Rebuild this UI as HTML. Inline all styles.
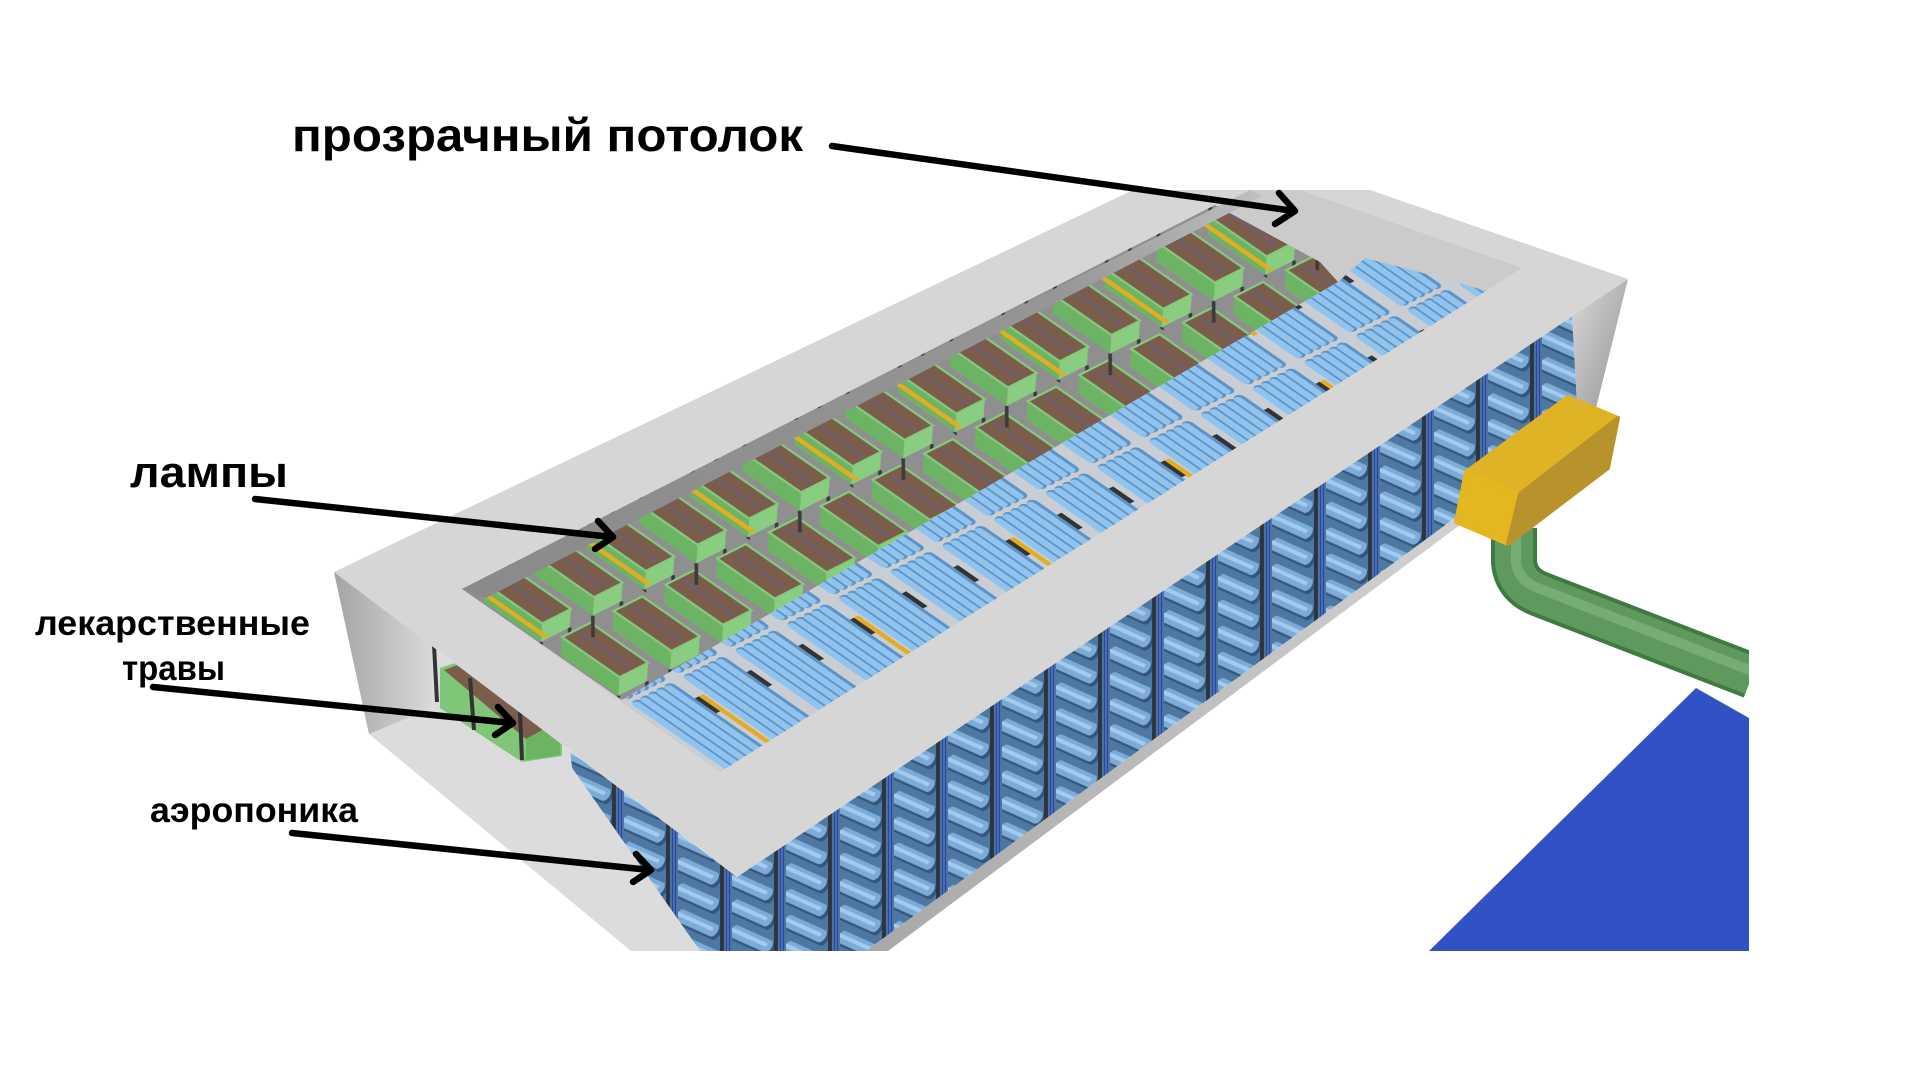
<!DOCTYPE html>
<html><head><meta charset="utf-8">
<style>
html,body{margin:0;padding:0;background:#fff;width:1920px;height:1080px;overflow:hidden;}
svg{display:block;}
text{font-family:"Liberation Sans","DejaVu Sans",sans-serif;font-weight:bold;fill:#000;}
</style></head><body>
<svg width="1920" height="1080" viewBox="0 0 1920 1080" xmlns="http://www.w3.org/2000/svg">
<defs>
  <!-- rack side pattern -->
  <pattern id="rack" width="54" height="130" patternUnits="userSpaceOnUse" patternTransform="translate(570,751) skewY(-33.8)">
    <rect width="54" height="130" fill="#4d78a2"/>
    <g stroke-linecap="round">
      <line x1="4" y1="-18" x2="38" y2="20" stroke="#34567a" stroke-width="11"/>
      <line x1="2" y1="-22" x2="36" y2="16" stroke="#7cabd7" stroke-width="10"/>
      <line x1="0" y1="-25" x2="34" y2="13" stroke="#a2cbee" stroke-width="3"/>
      <line x1="4" y1="8" x2="38" y2="46" stroke="#34567a" stroke-width="11"/>
      <line x1="2" y1="4" x2="36" y2="42" stroke="#7cabd7" stroke-width="10"/>
      <line x1="0" y1="1" x2="34" y2="39" stroke="#a2cbee" stroke-width="3"/>
      <line x1="4" y1="34" x2="38" y2="72" stroke="#34567a" stroke-width="11"/>
      <line x1="2" y1="30" x2="36" y2="68" stroke="#7cabd7" stroke-width="10"/>
      <line x1="0" y1="27" x2="34" y2="65" stroke="#a2cbee" stroke-width="3"/>
      <line x1="4" y1="60" x2="38" y2="98" stroke="#34567a" stroke-width="11"/>
      <line x1="2" y1="56" x2="36" y2="94" stroke="#7cabd7" stroke-width="10"/>
      <line x1="0" y1="53" x2="34" y2="91" stroke="#a2cbee" stroke-width="3"/>
      <line x1="4" y1="86" x2="38" y2="124" stroke="#34567a" stroke-width="11"/>
      <line x1="2" y1="82" x2="36" y2="120" stroke="#7cabd7" stroke-width="10"/>
      <line x1="0" y1="79" x2="34" y2="117" stroke="#a2cbee" stroke-width="3"/>
      <line x1="4" y1="112" x2="38" y2="150" stroke="#34567a" stroke-width="11"/>
      <line x1="2" y1="108" x2="36" y2="146" stroke="#7cabd7" stroke-width="10"/>
      <line x1="0" y1="105" x2="34" y2="143" stroke="#a2cbee" stroke-width="3"/>
    </g>
    <rect x="42" y="0" width="4" height="130" fill="#2b3540"/>
    <line x1="48.5" y1="0" x2="48.5" y2="130" stroke="#2a3fb0" stroke-width="1.2"/>
    <line x1="51.5" y1="0" x2="51.5" y2="130" stroke="#2a3fb0" stroke-width="1.2"/>
  </pattern>

  <!-- herb box (local coords) -->
  <g id="gbox">
    <line x1="-18" y1="88" x2="-38" y2="110" stroke="#3b3b3b" stroke-width="3"/>
    <line x1="14" y1="88" x2="-6" y2="110" stroke="#3b3b3b" stroke-width="3"/>
    <polygon points="0,0 0,70 -18,88 -18,18" fill="#6cb464"/>
    <polygon points="0,70 32,70 14,88 -18,88" fill="#88cd80"/>
    <rect width="32" height="70" fill="#7a5d4b" stroke="#85ca7d" stroke-width="2.5"/>
    <line x1="16" y1="4" x2="16" y2="66" stroke="#4a62d8" stroke-width="0.8"/>
  </g>
  <pattern id="gp" width="116" height="196" patternUnits="userSpaceOnUse">
    <rect width="116" height="196" fill="#8f8f8f"/>
    <use href="#gbox" x="20" y="6"/>
    <use href="#gbox" x="20" y="100"/>
    <use href="#gbox" x="78" y="6"/>
    <use href="#gbox" x="78" y="100"/>
    <line x1="10" y1="2" x2="10" y2="92" stroke="#e3ad22" stroke-width="5"/>
  </pattern>

  <!-- pipe column (local coords) -->
  <g id="pcol">
    <rect x="49" y="30" width="5" height="26" fill="#333"/>
    <rect x="49" y="120" width="5" height="26" fill="#333"/>
    <g stroke-linecap="round">
      <line x1="8" y1="6" x2="8" y2="192" stroke="#5e93c6" stroke-width="10"/>
      <line x1="6" y1="6" x2="6" y2="192" stroke="#90c3ed" stroke-width="7"/>
      <line x1="17" y1="6" x2="17" y2="192" stroke="#5e93c6" stroke-width="10"/>
      <line x1="15" y1="6" x2="15" y2="192" stroke="#90c3ed" stroke-width="7"/>
      <line x1="26" y1="6" x2="26" y2="192" stroke="#5e93c6" stroke-width="10"/>
      <line x1="24" y1="6" x2="24" y2="192" stroke="#90c3ed" stroke-width="7"/>
      <line x1="35" y1="6" x2="35" y2="192" stroke="#5e93c6" stroke-width="10"/>
      <line x1="33" y1="6" x2="33" y2="192" stroke="#90c3ed" stroke-width="7"/>
      <line x1="44" y1="6" x2="44" y2="192" stroke="#5e93c6" stroke-width="10"/>
      <line x1="42" y1="6" x2="42" y2="192" stroke="#90c3ed" stroke-width="7"/>
    </g>
  </g>
  <pattern id="bp" width="174" height="200" patternUnits="userSpaceOnUse">
    <rect width="174" height="200" fill="#c9ced4"/>
    <use href="#pcol" x="0" y="0"/>
    <use href="#pcol" x="58" y="0"/>
    <use href="#pcol" x="116" y="0"/>
    <line x1="56" y1="30" x2="56" y2="150" stroke="#e3ad22" stroke-width="5"/>
  </pattern>

  <linearGradient id="wallL" x1="0" y1="0" x2="1" y2="0">
    <stop offset="0" stop-color="#a4a4a4"/>
    <stop offset="1" stop-color="#d9d9d9"/>
  </linearGradient>
  <linearGradient id="wallR" x1="0" y1="0" x2="1" y2="1">
    <stop offset="0" stop-color="#dadada"/>
    <stop offset="1" stop-color="#8e8e8e"/>
  </linearGradient>
  <linearGradient id="strip" x1="0" y1="0" x2="1" y2="0">
    <stop offset="0" stop-color="#a8a8a8"/>
    <stop offset="1" stop-color="#d2d2d2"/>
  </linearGradient>
  <linearGradient id="band" gradientUnits="userSpaceOnUse" x1="462" y1="589" x2="1250" y2="190">
    <stop offset="0" stop-color="#8a8a8a"/>
    <stop offset="0.75" stop-color="#969696"/>
    <stop offset="1" stop-color="#bdbdbd"/>
  </linearGradient>

  <clipPath id="cGreen"><polygon points="462,589 1215,205 1320,262 1338,282 622,700"/></clipPath>
  <clipPath id="cBlue"><polygon points="622,700 1338,282 1365,258 1450,280 1486,291 720,772"/></clipPath>
</defs>

<rect width="1920" height="1080" fill="#fff"/>

<!-- blue floor -->
<polygon points="1696,688 1749,718 1749,951 1429,951" fill="#3152c4"/>

<!-- rack band (aeroponics side view) -->
<polygon points="570,751 737,877 1572,316 1580,430 1455,518 866,951 700,951 572,768" fill="url(#rack)"/>
<polygon points="866,951 1455,518 1472,516 888,951" fill="url(#strip)"/>

<!-- left end: wall + floor -->
<polygon points="334,572 570,751 572,768 700,951 631,951 369,734" fill="#dcdcdc"/>
<polygon points="334,572 432,646 432,708 369,734" fill="url(#wallL)"/>
<!-- herbs visible at left end -->
<polygon points="440,668 458,662 562,735 562,756 522,762 440,708" fill="#7fc678"/>
<polygon points="444,670 458,665 546,728 526,739" fill="#7a5d4b"/>
<polygon points="526,739 546,728 560,738 560,755 526,760" fill="#6cb464"/>
<g stroke="#333" stroke-width="4">
  <line x1="434" y1="645" x2="437" y2="702"/>
  <line x1="470" y1="678" x2="474" y2="730"/>
  <line x1="520" y1="712" x2="522" y2="760"/>
</g>

<!-- right end wall -->
<polygon points="1628,279 1596,408 1578,425 1572,316" fill="url(#wallR)"/>

<!-- roof slab -->
<polygon points="334,572 1133,190 1370,190 1628,279 737,877" fill="#d6d6d6"/>

<!-- inner opening (transparent ceiling) -->
<polygon points="462,589 1250,190 1300,190 1522,268 720,772" fill="#cbcbcb"/>
<g clip-path="url(#cGreen)">
  <g transform="matrix(0.892,-0.452,0.822,0.572,462,589)">
    <rect x="-120" y="-60" width="1250" height="460" fill="url(#gp)"/>
  </g>
</g>
<polygon points="462,589 1250,190 1262,196 486,598" fill="url(#band)"/>
<g clip-path="url(#cBlue)">
  <g transform="matrix(0.892,-0.452,0.822,0.572,462,589)">
    <rect x="-120" y="-60" width="1250" height="460" fill="url(#bp)"/>
  </g>
</g>

<!-- green pipe -->
<path d="M1514,528 L1514,562 Q1516,586 1542,595 L1752,676" fill="none" stroke="#3f7a42" stroke-width="46"/>
<path d="M1514,528 L1514,562 Q1516,586 1542,595 L1752,676" fill="none" stroke="#5e9a5e" stroke-width="38"/>
<path d="M1516,528 L1516,562 Q1518,582 1543,590 L1752,671" fill="none" stroke="#7ab27a" stroke-width="10" opacity="0.8"/>
<rect x="1749" y="580" width="80" height="160" fill="#fff"/>

<!-- yellow box -->
<g stroke-linejoin="round" stroke-width="4">
  <polygon points="1466,472 1568,397 1618,418 1520,494" fill="#dfb326" stroke="#dfb326"/>
  <polygon points="1466,472 1520,494 1508,544 1456,522" fill="#e4b61f" stroke="#e4b61f"/>
  <polygon points="1520,494 1618,418 1608,468 1508,544" fill="#b8922a" stroke="#b8922a"/>
</g>

<!-- labels -->
<text x="292" y="151" font-size="46" textLength="511" lengthAdjust="spacingAndGlyphs">прозрачный потолок</text>
<text x="130" y="487" font-size="44" textLength="158" lengthAdjust="spacingAndGlyphs">лампы</text>
<text x="35" y="635" font-size="35" textLength="275" lengthAdjust="spacingAndGlyphs">лекарственные</text>
<text x="122" y="680" font-size="35" textLength="103" lengthAdjust="spacingAndGlyphs">травы</text>
<text x="150" y="822" font-size="35" textLength="208" lengthAdjust="spacingAndGlyphs">аэропоника</text>

<!-- arrows -->
<g fill="none" stroke="#000" stroke-width="6.5" stroke-linecap="round" stroke-linejoin="round">
  <path d="M832,146 L1294,211 M1279,193 L1295,211 L1275,224"/>
  <path d="M255,499 L612,537 M598,521 L613,537 L595,549"/>
  <path d="M153,687 L512,723 M498,707 L513,723 L495,735"/>
  <path d="M292,833 L650,870 M636,854 L651,870 L633,882"/>
</g>
</svg>
</body></html>
